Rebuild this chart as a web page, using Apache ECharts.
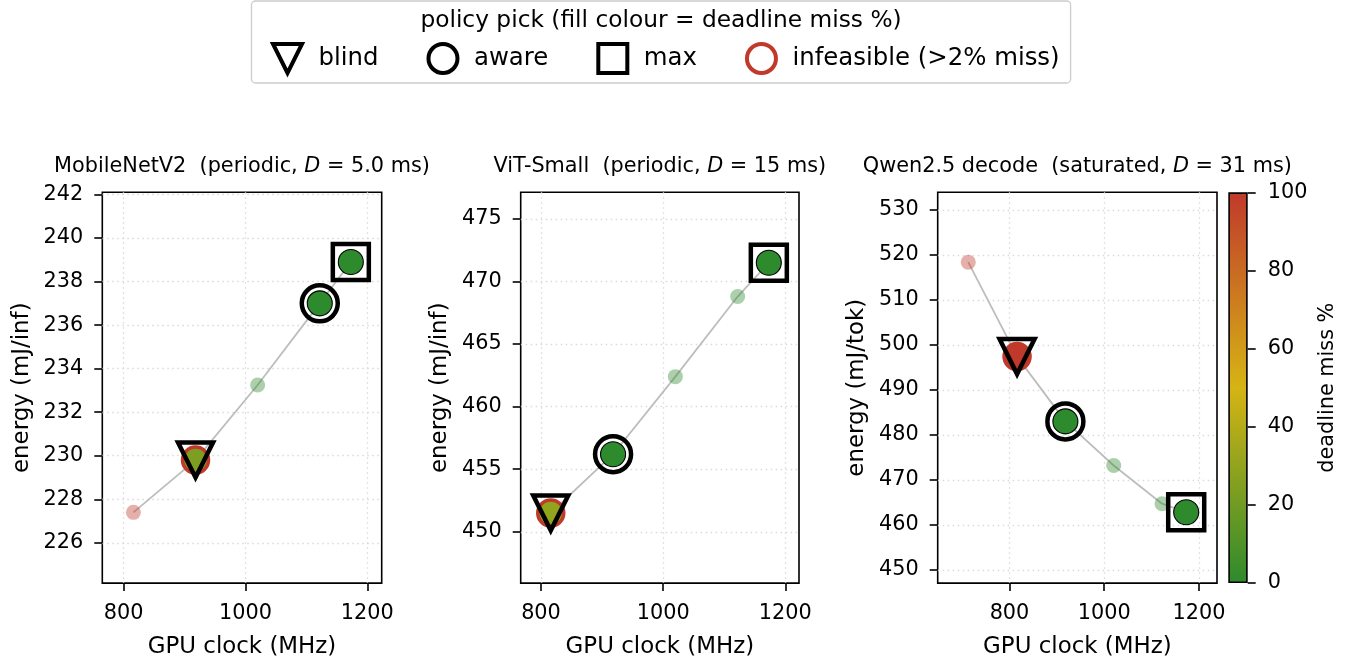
<!DOCTYPE html>
<html>
<head>
<meta charset="utf-8">
<script src="https://cdn.jsdelivr.net/npm/echarts@6/dist/echarts.min.js"></script>
<style>
html,body{margin:0;padding:0;background:#ffffff;}
#chart{width:1347px;height:658px;}
</style>
</head>
<body>
<div id="chart"></div>
<script>
// ---------------- DATA ----------------
const freqMobileNet   = [816, 918, 1020, 1122, 1173];
const energyMobileNet = [227.4, 229.8, 233.25, 237.0, 238.9];
const missMobileNet   = [100, 24, 0, 0, 0];

const freqViT   = [816, 918, 1020, 1122, 1173];
const energyViT = [451.5, 456.2, 462.4, 468.8, 471.5];
const missViT   = [30, 0, 0, 0, 0];

const freqQwen   = [713, 816, 918, 1020, 1122, 1173];
const energyQwen = [518.4, 497.4, 483.0, 473.2, 464.7, 462.8];
const missQwen   = [100, 100, 0, 0, 0, 0];

// frequency (MHz) picked by each policy, per panel
const pickBlind = [918, 816, 816];
const pickAware = [1122, 918, 918];
const pickMax   = [1173, 1173, 1173];

const panelTitles = [
  'MobileNetV2  (periodic, {it|D} = 5.0 ms)',
  'ViT-Small  (periodic, {it|D} = 15 ms)',
  'Qwen2.5 decode  (saturated, {it|D} = 31 ms)'
];
const yNames = ['energy (mJ/inf)', 'energy (mJ/inf)', 'energy (mJ/tok)'];
const xName = 'GPU clock (MHz)';
const xTicks = [800, 1000, 1200];
const yTicksMobileNet = [226, 228, 230, 232, 234, 236, 238, 240, 242];
const yTicksViT = [450, 455, 460, 465, 470, 475];
const yTicksQwen = [450, 460, 470, 480, 490, 500, 510, 520, 530];
const cbarTicks = [0, 20, 40, 60, 80, 100];
const infeasibleMiss = 2;
const legendTitle = 'policy pick (fill colour = deadline miss %)';
const cbarName = 'deadline miss %';

// ---------------- LAYOUT / STYLE ----------------
const FONT = 'DejaVu Sans';
const gridBoxes = [
  {left: 102.3, width: 279.4},
  {left: 520.7, width: 278.3},
  {left: 937.7, width: 279.3}
];
const gridTop = 192.3, gridHeight = 390.8;
const xRanges = [[764.9, 1223.7], [766.8, 1222.4], [648.5, 1238.0]];
const yRanges = [[224.15, 242.1], [445.9, 477.13], [447.05, 533.93]];
const cmapColors = ['#2d8a2d', '#d6b414', '#c0392b'];
const RED = '#c0392b';

function hexToRgb(h){return [parseInt(h.slice(1,3),16),parseInt(h.slice(3,5),16),parseInt(h.slice(5,7),16)];}
function cmap(v){
  const n = cmapColors.length;
  const t = Math.max(0, Math.min(1, v/100)) * (n-1);
  const i = Math.min(Math.floor(t), n-2);
  const f = t - i;
  const a = hexToRgb(cmapColors[i]), b = hexToRgb(cmapColors[i+1]);
  return 'rgb(' + a.map((x,k)=>Math.round(x + (b[k]-x)*f)).join(',') + ')';
}
const plain = v => String(v);

const panels = [
  {freq: freqMobileNet, energy: energyMobileNet, miss: missMobileNet, yTicks: yTicksMobileNet},
  {freq: freqViT, energy: energyViT, miss: missViT, yTicks: yTicksViT},
  {freq: freqQwen, energy: energyQwen, miss: missQwen, yTicks: yTicksQwen}
];

const TRI = 'path://M0,0 L2,0 L1,2 Z';
const SQR = 'path://M0,0 L1,0 L1,1 L0,1 Z';

const grids = [], xAxes = [], yAxes = [], series = [], titles = [];

titles.push({
  text: legendTitle, left: 661, top: 9.5, textAlign: 'center', padding: 0,
  textStyle: {fontFamily: FONT, fontSize: 23.3, fontWeight: 'normal', color: '#000'}
});

const gridLine = {show: true, lineStyle: {color: '#d9d9d9', width: 1.3, type: [1.5, 3.5]}};

panels.forEach((p, i) => {
  grids.push({left: gridBoxes[i].left, width: gridBoxes[i].width, top: gridTop, height: gridHeight,
    show: true, borderColor: '#000', borderWidth: 1.6, backgroundColor: '#fff', containLabel: false, outerBoundsMode: 'none'});
  xAxes.push({
    type: 'value', gridIndex: i, min: xRanges[i][0], max: xRanges[i][1],
    axisLine: {show: false, onZero: false},
    axisTick: {show: true, length: 8, lineStyle: {color: '#000', width: 1.6}, customValues: xTicks},
    axisLabel: {customValues: xTicks, formatter: plain, margin: 20, color: '#000', fontSize: 20.8, fontFamily: FONT},
    splitLine: gridLine,
    name: xName, nameLocation: 'middle', nameGap: 52,
    nameTextStyle: {fontFamily: FONT, fontSize: 22.9, color: '#000'}
  });
  yAxes.push({
    type: 'value', gridIndex: i, min: yRanges[i][0], max: yRanges[i][1],
    axisLine: {show: false, onZero: false},
    axisTick: {show: true, length: 8, lineStyle: {color: '#000', width: 1.6}, customValues: p.yTicks},
    axisLabel: {customValues: p.yTicks, formatter: plain, margin: 19, color: '#000', fontSize: 20.8, fontFamily: FONT},
    splitLine: gridLine,
    name: yNames[i], nameLocation: 'middle', nameRotate: 90, nameGap: 69,
    nameTextStyle: {fontFamily: FONT, fontSize: 22.9, color: '#000'}
  });
  titles.push({
    text: panelTitles[i], left: gridBoxes[i].left + gridBoxes[i].width/2, top: 156.5, textAlign: 'center', padding: 0,
    textStyle: {fontFamily: FONT, fontSize: 20.8, fontWeight: 'normal', color: '#000',
      rich: {it: {fontFamily: FONT, fontSize: 20.8, fontStyle: 'italic', color: '#000'}}}
  });

  const pts = p.freq.map((f, k) => [f, p.energy[k]]);
  // connecting line
  series.push({type: 'line', xAxisIndex: i, yAxisIndex: i, data: pts, showSymbol: false, silent: true,
    lineStyle: {color: '#bdbdbd', width: 1.8}, z: 2});
  // all frequencies, faded
  series.push({type: 'scatter', xAxisIndex: i, yAxisIndex: i, symbol: 'circle', symbolSize: 15, silent: true, z: 3,
    data: p.freq.map((f, k) => ({value: [f, p.energy[k]], itemStyle: {color: cmap(p.miss[k]), opacity: 0.4}}))});
  // picked points fills
  const picked = [];
  [pickBlind[i], pickAware[i], pickMax[i]].forEach(f => { if (picked.indexOf(f) < 0) picked.push(f); });
  const feas = [], infeas = [];
  picked.forEach(f => {
    const k = p.freq.indexOf(f);
    const item = {value: [f, p.energy[k]], itemStyle: {color: cmap(p.miss[k]), opacity: 1}};
    (p.miss[k] > infeasibleMiss ? infeas : feas).push(item);
  });
  series.push({type: 'scatter', xAxisIndex: i, yAxisIndex: i, symbol: 'circle', symbolSize: 25, silent: true, z: 4,
    itemStyle: {borderColor: '#000', borderWidth: 1.1, opacity: 1}, data: feas});
  series.push({name: 'infeasible (>2% miss)', type: 'scatter', xAxisIndex: i, yAxisIndex: i, symbol: 'circle', symbolSize: 26, silent: true, z: 4,
    itemStyle: {borderColor: RED, borderWidth: 3.5, opacity: 1}, data: infeas});
  // policy markers (hollow)
  const kb = p.freq.indexOf(pickBlind[i]), ka = p.freq.indexOf(pickAware[i]), km = p.freq.indexOf(pickMax[i]);
  const hollow = {color: 'rgba(0,0,0,0)', borderColor: '#000', borderWidth: 4.5, opacity: 1};
  series.push({name: 'aware', type: 'scatter', xAxisIndex: i, yAxisIndex: i, symbol: 'circle', symbolSize: 36, silent: true, z: 5,
    itemStyle: hollow, data: [[pickAware[i], p.energy[ka]]]});
  series.push({name: 'max', type: 'scatter', xAxisIndex: i, yAxisIndex: i, symbol: SQR, symbolSize: 36, silent: true, z: 5,
    itemStyle: hollow, data: [[pickMax[i], p.energy[km]]]});
  series.push({name: 'blind', type: 'scatter', xAxisIndex: i, yAxisIndex: i, symbol: TRI, symbolSize: 35, silent: true, z: 5,
    itemStyle: hollow, data: [[pickBlind[i], p.energy[kb]]]});
});

// colorbar
grids.push({left: 1228.3, width: 19.4, top: gridTop, height: gridHeight, show: false, containLabel: false, outerBoundsMode: 'none'});
xAxes.push({type: 'category', gridIndex: 3, data: [''], show: false, boundaryGap: true});
yAxes.push({
  type: 'value', gridIndex: 3, position: 'right', min: 0, max: 100, interval: 20,
  axisLine: {show: false},
  axisTick: {show: true, length: 8, lineStyle: {color: '#000', width: 1.6}, customValues: cbarTicks},
  axisLabel: {customValues: cbarTicks, formatter: plain, margin: 20, color: '#000', fontSize: 20.8, fontFamily: FONT},
  splitLine: {show: false},
  name: cbarName, nameLocation: 'middle', nameRotate: 90, nameGap: 69,
  nameTextStyle: {fontFamily: FONT, fontSize: 20.8, color: '#000'}
});
series.push({type: 'bar', xAxisIndex: 3, yAxisIndex: 3, data: [cbarTicks[cbarTicks.length-1]], barWidth: '100%', silent: true,
  itemStyle: {borderColor: '#000', borderWidth: 1.6, opacity: 1,
    color: {type: 'linear', x: 0, y: 1, x2: 0, y2: 0,
      colorStops: cmapColors.map((c, k) => ({offset: k/(cmapColors.length-1), color: c}))}}});

const legendHollow = c => ({color: 'rgba(0,0,0,0)', borderColor: c, borderWidth: 4, opacity: 1});
const option = {
  animation: false,
  backgroundColor: '#ffffff',
  textStyle: {fontFamily: FONT},
  title: titles,
  legend: {
    left: 251.5, top: 1, orient: 'horizontal',
    padding: [41, 11, 8, 19.5], itemGap: 48, itemWidth: 52, itemHeight: 29,
    borderColor: '#cccccc', borderWidth: 1.3, borderRadius: 4, backgroundColor: '#ffffff',
    selectedMode: false,
    textStyle: {fontFamily: FONT, fontSize: 24.4, color: '#000'},
    data: [
      {name: 'blind', icon: TRI, itemStyle: legendHollow('#000')},
      {name: 'aware', icon: 'circle', itemStyle: legendHollow('#000')},
      {name: 'max', icon: SQR, itemStyle: legendHollow('#000')},
      {name: 'infeasible (>2% miss)', icon: 'circle', itemStyle: legendHollow(RED)}
    ]
  },
  grid: grids,
  xAxis: xAxes,
  yAxis: yAxes,
  series: series
};

const chart = echarts.init(document.getElementById('chart'), null, {renderer: 'canvas'});
chart.setOption(option);
</script>
</body>
</html>
